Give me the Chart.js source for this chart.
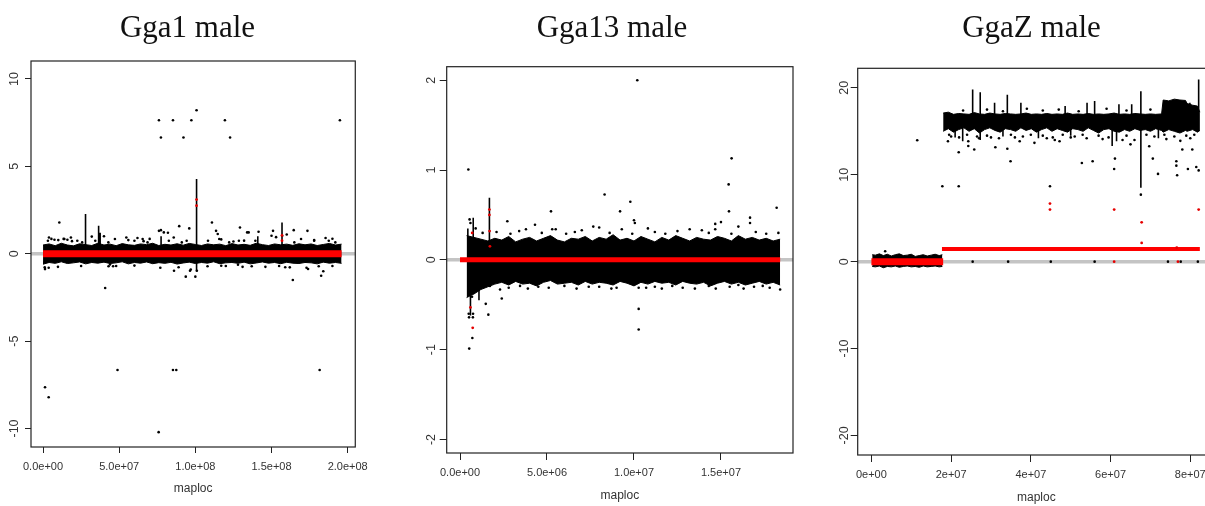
<!DOCTYPE html>
<html><head><meta charset="utf-8">
<script src="https://cdn.jsdelivr.net/npm/chart.js@4.4.1/dist/chart.umd.min.js"></script>
<style>
html,body{margin:0;padding:0;background:#fff;overflow:hidden;width:1205px;height:506px;position:relative}
.pn{position:absolute;top:0}
</style></head><body>
<div class="pn" style="left:0px"><canvas id="c1" width="375" height="506" style="width:375px;height:506px"></canvas></div>
<div class="pn" style="left:422px"><canvas id="c2" width="380" height="506" style="width:380px;height:506px"></canvas></div>
<div class="pn" style="left:834px"><canvas id="c3" width="395" height="506" style="width:395px;height:506px"></canvas></div>
<script>
// ================= DATA =================
const xAxisTitle = 'maploc';

// ---- Gga1 male ----
const g1Title = 'Gga1 male';
const g1XRange = [-7.9e6, 2.05e8];
const g1YRange = [-11.06, 11.03];
const g1XTicks = [0, 5e7, 1e8, 1.5e8, 2e8];
const g1XTickLabels = ['0.0e+00', '5.0e+07', '1.0e+08', '1.5e+08', '2.0e+08'];
const g1YTicks = [-10, -5, 0, 5, 10];
const g1YTickLabels = ['-10', '-5', '0', '5', '10'];
const g1BandXMb = [0,4,8,12,16,20,24,28,32,36,40,44,48,52,56,60,64,68,72,76,80,84,88,92,96,100,104,108,112,116,120,124,128,132,136,140,144,148,152,156,160,164,168,172,176,180,184,188,192,196];
const g1BandHi = [0.5,0.56,0.46,0.6,0.5,0.45,0.57,0.52,0.47,0.6,0.5,0.55,0.46,0.58,0.51,0.48,0.56,0.52,0.6,0.47,0.54,0.5,0.57,0.49,0.59,0.53,0.47,0.56,0.51,0.55,0.46,0.58,0.5,0.54,0.48,0.6,0.52,0.47,0.56,0.51,0.55,0.48,0.57,0.51,0.56,0.47,0.53,0.59,0.5,0.55];
const g1BandLo = [-0.6,-0.5,-0.55,-0.46,-0.56,-0.52,-0.47,-0.58,-0.5,-0.54,-0.48,-0.56,-0.52,-0.46,-0.58,-0.5,-0.54,-0.47,-0.57,-0.51,-0.55,-0.49,-0.59,-0.53,-0.48,-0.56,-0.5,-0.54,-0.46,-0.57,-0.52,-0.5,-0.55,-0.48,-0.58,-0.53,-0.47,-0.54,-0.5,-0.57,-0.49,-0.54,-0.56,-0.5,-0.52,-0.58,-0.48,-0.54,-0.5,-0.55];
const g1Spikes = [[1.008e8,0.5,4.27],[2.79e7,0.5,2.27],[3.65e7,0.5,1.6],[3.75e7,0.5,1.2],[1.569e8,0.5,1.79],[1.008e8,-1.0,-0.5],[7.75e7,0.5,1.0],[1.41e8,0.5,1.0]];
const g1Points = [[7.61e7,7.64],[7.74e7,6.65],[8.53e7,7.64],[9.22e7,6.65],[9.74e7,7.64],[1.008e8,8.21],[1.194e8,7.64],[1.228e8,6.65],[1.949e8,7.64],
 [1.07e7,1.79],[3.9e6,0.93],[5.5e6,0.85],[1.0e7,0.78],[1.35e7,0.85],[1.6e7,0.8],[1.9e7,0.72],[8.94e7,1.58],[9.6e7,1.45],[7.74e7,1.35],[8.2e7,1.2],
 [1.109e8,1.79],[1.136e8,1.31],[1.293e8,1.5],[1.34e8,1.22],[1.415e8,1.26],[1.51e8,1.31],[1.57e8,1.03],[1.646e8,1.35],[1.736e8,1.31],[1.855e8,0.9],
 [3.2e7,0.98],[4.0e7,1.0],[5.6e7,0.78],[6.2e7,0.9],[7.0e7,0.85],[1.17e8,0.82],[1.32e8,0.75],[1.53e8,0.95],[1.6e8,1.1],[1.78e8,0.78],[1.9e8,0.86],[6.6e7,0.72],[1.25e8,0.7],
 [3.2e6,0.74],[7.5e6,0.8],[1.4e7,0.84],[1.83e7,0.93],[2.25e7,0.74],[2.57e7,0.65],[3.43e7,0.74],[4.29e7,0.65],[4.72e7,0.84],[5.47e7,0.93],[6.0e7,0.74],[6.54e7,0.84],
 [6.86e7,0.65],[7.61e7,1.31],[7.93e7,1.22],[8.26e7,0.74],[8.58e7,0.93],[9.11e7,0.65],[9.43e7,0.74],[1.083e8,0.74],[1.147e8,1.13],[1.157e8,0.84],[1.222e8,0.65],
 [1.286e8,0.74],[1.35e8,1.22],[1.394e8,0.74],[1.5e8,1.03],[1.65e8,0.65],[1.694e8,0.84],[1.78e8,0.74],[1.876e8,0.74],[1.919e8,0.65],
 [4.08e7,-1.96],[4.89e7,-6.65],[8.53e7,-6.65],[8.75e7,-6.65],[1.816e8,-6.65],[1.3e6,-7.64],[3.7e6,-8.21],[7.59e7,-10.21],[1.64e8,-1.5],[1.826e8,-1.26],
 [9.37e7,-1.31],[1.0e8,-1.31],[1.01e8,-0.97],[9.7e7,-0.9],[8.6e7,-0.97],[1.3e6,-0.88],[3.7e6,-0.8],[9.8e6,-0.75],[1.59e8,-0.77],[1.73e8,-0.8],[8.9e7,-0.77],
 [1.31e8,-0.75],[1.37e8,-0.72],[1.46e8,-0.75],[1.55e8,-0.7],[2.5e7,-0.7],[4.3e7,-0.72],[4.6e7,-0.72],[4.8e7,-0.7],[6.0e7,-0.68],[1.08e8,-0.72],[1.2e8,-0.7],[1.81e8,-0.72],[1.9e8,-0.7],
 [1.1e6,-0.78],[4.4e7,-0.62],[7.7e7,-0.8],[9.65e7,-0.97],[1.17e8,-0.69],[1.28e8,-0.63],[1.62e8,-0.78],[1.74e8,-0.87],[1.84e8,-1.0]];
const g1RedPoints = [[1.008e8,3.1],[1.008e8,2.75],[1.569e8,1.05],[1.569e8,0.75]];
const g1Segments = [[0, 1.96e8, 0.0]];

// ---- Gga13 male ----
const g2Title = 'Gga13 male';
const g2XRange = [-0.765e6, 1.914e7];
const g2YRange = [-2.15, 2.15];
const g2XTicks = [0, 5e6, 1e7, 1.5e7];
const g2XTickLabels = ['0.0e+00', '5.0e+06', '1.0e+07', '1.5e+07'];
const g2YTicks = [-2, -1, 0, 1, 2];
const g2YTickLabels = ['-2', '-1', '0', '1', '2'];
const g2BandXMb = [0.38,0.8,1.2,1.6,2.0,2.4,2.8,3.2,3.6,4.0,4.4,4.8,5.2,5.6,6.0,6.4,6.8,7.2,7.6,8.0,8.4,8.8,9.2,9.6,10.0,10.4,10.8,11.2,11.6,12.0,12.4,12.8,13.2,13.6,14.0,14.4,14.8,15.2,15.6,16.0,16.4,16.8,17.2,17.6,18.0,18.4];
const g2BandHi = [0.27,0.25,0.23,0.21,0.24,0.22,0.26,0.2,0.23,0.25,0.21,0.24,0.27,0.22,0.2,0.24,0.23,0.26,0.21,0.25,0.23,0.28,0.22,0.24,0.21,0.26,0.23,0.2,0.25,0.22,0.27,0.24,0.21,0.25,0.23,0.22,0.26,0.24,0.21,0.27,0.23,0.25,0.22,0.24,0.21,0.23];
const g2BandLo = [-0.42,-0.38,-0.33,-0.3,-0.27,-0.25,-0.28,-0.24,-0.27,-0.26,-0.29,-0.25,-0.23,-0.27,-0.26,-0.25,-0.28,-0.24,-0.27,-0.25,-0.26,-0.28,-0.24,-0.26,-0.29,-0.25,-0.27,-0.24,-0.26,-0.25,-0.28,-0.24,-0.26,-0.27,-0.25,-0.29,-0.26,-0.24,-0.27,-0.25,-0.28,-0.26,-0.24,-0.27,-0.25,-0.28];
const g2Spikes = [[0.76e6,0.2,0.47],[1.69e6,0.2,0.69],[1.09e6,-0.45,-0.2],[0.6e6,-0.62,-0.25],[0.45e6,0.2,0.35]];
const g2Points = [[1.019e7,2.0],[0.48e6,1.006],[1.561e7,1.13],[1.544e7,0.84],[1.546e7,0.54],[8.31e6,0.727],[9.79e6,0.646],[9.2e6,0.54],[5.23e6,0.54],[1.82e7,0.58],
 [1.667e7,0.47],[1.667e7,0.41],[1.0e7,0.44],[1.005e7,0.41],[2.72e6,0.43],[4.31e6,0.39],[1.467e7,0.4],[1.467e7,0.34],[1.5e7,0.42],[0.55e6,0.45],[0.6e6,0.41],[0.9e6,0.35],
 [3.79e6,0.34],[5.3e6,0.34],[5.5e6,0.34],[7.66e6,0.37],[8.0e6,0.36],[9.3e6,0.34],[1.08e7,0.35],[1.32e7,0.34],[1.39e7,0.33],[1.6e7,0.37],[1.83e7,0.3],[7.0e6,0.33],[1.25e7,0.32],[3.4e6,0.32],
 [1.3e6,0.3],[2.1e6,0.31],[2.9e6,0.29],[4.7e6,0.3],[6.1e6,0.29],[6.6e6,0.31],[8.6e6,0.3],[9.9e6,0.29],[1.12e7,0.31],[1.18e7,0.29],[1.43e7,0.3],[1.56e7,0.29],[1.7e7,0.31],[1.76e7,0.29],
 [0.53e6,-0.988],[0.71e6,-0.87],[0.5e6,-0.6],[0.75e6,-0.6],[0.52e6,-0.64],[0.74e6,-0.64],[0.69e6,-0.41],[1.48e6,-0.49],[1.63e6,-0.61],[2.4e6,-0.43],[2.3e6,-0.33],[1.72e6,-0.29],
 [1.027e7,-0.546],[1.027e7,-0.776],[1.027e7,-0.31],[1.35e7,-0.32],[1.84e7,-0.33],[1.55e7,-0.3],[1.22e7,-0.29],[1.6e7,-0.28],[3.45e6,-0.29],[4.5e6,-0.3],[6.0e6,-0.29],[8.0e6,-0.3],[9.0e6,-0.31],[1.12e7,-0.3],[1.43e7,-0.29],[1.78e7,-0.31],[1.69e7,-0.3],
 [2.8e6,-0.31],[3.9e6,-0.32],[5.1e6,-0.31],[6.7e6,-0.32],[7.4e6,-0.3],[8.7e6,-0.32],[1.07e7,-0.31],[1.16e7,-0.32],[1.28e7,-0.31],[1.47e7,-0.32],[1.63e7,-0.32],[1.74e7,-0.29]];
const g2RedPoints = [[1.69e6,0.56],[1.69e6,0.5],[1.7e6,0.32],[0.73e6,-0.757],[0.6e6,-0.53],[0.7e6,0.3],[1.72e6,0.15]];
const g2Segments = [[0, 1.84e7, 0.0]];

// ---- GgaZ male ----
const g3Title = 'GgaZ male';
const g3XRange = [-3.44e6, 8.62e7];
const g3YRange = [-22.25, 22.25];
const g3XTicks = [0, 2e7, 4e7, 6e7, 8e7];
const g3XTickLabels = ['0e+00', '2e+07', '4e+07', '6e+07', '8e+07'];
const g3YTicks = [-20, -10, 0, 10, 20];
const g3YTickLabels = ['-20', '-10', '0', '10', '20'];
const g3LeftBandXMb = [0.2,1,2,3,4,5,6,7,8,9,10,11,12,13,14,15,16,17,17.8];
const g3LeftBandHi = [0.8,0.75,0.9,0.7,0.85,0.65,0.8,0.9,0.7,0.75,0.85,0.6,0.7,0.8,0.65,0.75,0.85,0.7,0.8];
const g3LeftBandLo = [-0.55,-0.6,-0.5,-0.7,-0.55,-0.6,-0.5,-0.65,-0.55,-0.5,-0.6,-0.55,-0.65,-0.5,-0.6,-0.55,-0.5,-0.6,-0.55];
const g3RightBandXMb = [18.0,19.3,20.6,21.9,23.2,24.5,25.8,27.1,28.4,29.7,31.0,32.3,33.6,34.9,36.2,37.5,38.8,40.1,41.4,42.7,44.0,45.3,46.6,47.9,49.2,50.5,51.8,53.1,54.4,55.7,57.0,58.3,59.6,60.9,62.2,63.5,64.8,66.1,67.4,68.7,70.0,71.3,72.8,73.2,74.6,76.0,77.4,78.8,79.2,80.6,81.8,82.4];
const g3RightBandHi = [17.1,17.2,16.95,17.05,17.0,16.95,17.15,17.0,16.95,17.1,17.0,16.95,17.05,17.0,16.95,17.0,17.1,16.95,17.0,16.95,17.05,16.95,17.0,16.95,17.1,16.95,17.0,16.95,17.05,16.95,17.0,16.95,17.0,17.1,16.95,17.0,16.95,17.05,17.0,16.95,17.0,16.95,17.0,18.6,18.5,18.7,18.6,18.55,18.2,18.0,17.9,17.2];
const g3RightBandLo = [15.0,15.3,14.9,15.2,15.4,15.0,15.3,14.8,15.2,15.4,15.1,14.9,15.3,15.2,15.0,15.4,15.1,15.3,14.9,15.2,15.4,15.0,15.3,15.1,14.9,15.3,15.2,15.0,15.4,15.1,14.8,15.2,15.3,15.0,14.9,15.2,15.0,15.3,15.1,15.2,15.0,15.3,15.1,14.9,15.2,15.0,14.8,15.1,15.0,15.2,14.9,15.1];
const g3Spikes = [[2.54e7,16.8,19.8],[2.73e7,14.0,19.5],[3.09e7,16.8,18.3],[3.41e7,16.8,19.2],[3.75e7,16.8,18.3],[4.86e7,16.8,17.9],[5.41e7,16.8,18.3],[5.6e7,16.8,18.5],
 [6.21e7,16.8,18.1],[6.53e7,16.8,18.1],[6.76e7,8.5,19.6],[7.99e7,16.8,18.3],[8.21e7,15.0,20.95],[2.29e7,13.85,15.5],[4.19e7,14.2,15.5],[6.04e7,13.3,15.5],[6.15e7,13.85,15.5],
 [2.1e7,14.3,15.3],[3.3e7,14.4,15.3],[5.0e7,14.5,15.2],[7.2e7,14.2,15.2]];
const g3Points = [[1.149e7,13.97],[1.78e7,8.67],[2.19e7,8.67],[4.48e7,8.67],[2.19e7,12.59],[1.92e7,13.85],[2.43e7,13.85],[2.58e7,12.9],[2.43e7,13.3],[3.11e7,13.16],[3.41e7,13.0],
 [3.49e7,11.55],[3.72e7,13.85],[4.09e7,13.67],[4.72e7,13.85],[5.28e7,11.36],[5.55e7,11.55],[6.11e7,11.86],[6.09e7,10.67],[6.97e7,13.28],[7.06e7,11.86],[7.19e7,10.1],
 [7.65e7,11.55],[7.65e7,11.05],[7.67e7,9.94],[7.8e7,12.9],[8.05e7,12.9],[7.94e7,10.67],[8.15e7,10.9],[8.21e7,10.5],[6.6e7,14.0],[6.5e7,13.5],[2.7e7,14.2],[3.0e7,14.3],
 [4.4e7,14.2],[5.0e7,14.3],[5.8e7,14.1],[6.3e7,14.0],[7.4e7,14.1],[7.75e7,13.9],[2.0e7,14.4],[3.6e7,14.3],[4.6e7,14.0],[5.4e7,14.2],[6.76e7,7.71],[3.45e6,1.19],
 [1.95e7,14.6],[2.2e7,14.3],[2.4e7,14.6],[2.65e7,14.4],[2.9e7,14.5],[3.2e7,14.2],[3.5e7,14.6],[3.8e7,14.4],[4.0e7,14.6],[4.3e7,14.5],[4.55e7,14.3],[4.8e7,14.6],
 [5.1e7,14.4],[5.3e7,14.6],[5.7e7,14.5],[5.95e7,14.3],[6.4e7,14.5],[6.9e7,14.6],[7.1e7,14.4],[7.35e7,14.6],[7.6e7,14.4],[7.9e7,14.5],[8.1e7,14.6],[8.0e7,14.2],
 [2.3e7,17.4],[2.9e7,17.5],[3.3e7,17.3],[3.9e7,17.6],[4.3e7,17.4],[4.7e7,17.5],[5.2e7,17.3],[5.9e7,17.6],[6.4e7,17.4],[7.0e7,17.5],
 [2.54e7,0],[3.43e7,0],[4.5e7,0],[5.6e7,0],[7.44e7,0],[7.76e7,0],[8.19e7,0]];
const g3RedPoints = [[4.48e7,6.68],[4.48e7,5.99],[6.09e7,5.99],[8.21e7,5.99],[6.78e7,4.53],[6.78e7,2.15],[7.66e7,1.6],[6.09e7,0],[7.69e7,0]];
const g3Segments = [[0, 1.8e7, 0.0], [1.77e7, 8.24e7, 1.46]];

// ================= STYLE / LAYOUT =================
const MB = 1e6;
const X_TICK_FONT = {family: "'Liberation Sans',Arial,sans-serif", size: 11};
const Y_TICK_FONT = {family: "'Liberation Sans',Arial,sans-serif", size: 12.5};
const AXIS_TITLE_FONT = {family: "'Liberation Sans',Arial,sans-serif", size: 12};
const TITLE_FONT = {family: "'Liberation Serif','Times New Roman',serif", size: 31, weight: 'normal'};
const INK = '#222', LABEL = '#333';

const framePlugin = {
  id: 'frame',
  afterDatasetsDraw(chart) {
    const {ctx, chartArea: a} = chart;
    ctx.save();
    ctx.strokeStyle = INK; ctx.lineWidth = 1.2;
    ctx.strokeRect(a.left, a.top, a.right - a.left, a.bottom - a.top);
    ctx.restore();
  }
};

function bandSets(xsMb, hi, lo) {
  const up = xsMb.map((x, i) => ({x: x * MB, y: hi[i]}));
  const dn = xsMb.map((x, i) => ({x: x * MB, y: lo[i]}));
  return [
    {type: 'line', data: up, borderColor: '#000', backgroundColor: '#000', borderWidth: 1, pointRadius: 0, fill: '+1', order: 8},
    {type: 'line', data: dn, borderColor: '#000', backgroundColor: '#000', borderWidth: 1, pointRadius: 0, fill: false, order: 8}
  ];
}
function spikeSet(list) {
  const d = [];
  list.forEach(([x, lo, hi]) => { d.push({x, y: lo}, {x, y: hi}, {x, y: null}); });
  return {type: 'line', data: d, borderColor: '#000', borderWidth: 1.6, pointRadius: 0, spanGaps: false, order: 6};
}
function pointSet(list, color, r, order) {
  return {type: 'scatter', data: list.map(([x, y]) => ({x, y})), backgroundColor: color, borderWidth: 0, pointRadius: r, order};
}
function segSets(list, widths) {
  return list.map(([x0, x1, m], i) => ({type: 'line', data: [{x: x0, y: m}, {x: x1, y: m}], borderColor: '#ff0000', borderWidth: widths[i], pointRadius: 0, order: 2}));
}
function zeroLine(xr) {
  return {type: 'line', data: [{x: xr[0], y: 0}, {x: xr[1], y: 0}], borderColor: '#c4c4c4', borderWidth: 3.5, pointRadius: 0, order: 10};
}

function makePanel(id, P, L) {
  new Chart(document.getElementById(id), {
    type: 'scatter',
    data: {datasets: P.datasets},
    options: {
      responsive: false, animation: false, devicePixelRatio: 1,
      layout: {padding: 0},
      plugins: {
        legend: {display: false}, tooltip: {enabled: false},
        title: {display: true, text: P.title, font: TITLE_FONT, color: '#111', padding: {top: L.titleTop, bottom: L.titleBottom}}
      },
      scales: {
        x: {
          type: 'linear', position: 'bottom', min: P.xr[0], max: P.xr[1], offset: false,
          afterBuildTicks: s => { s.ticks = P.xt.map(v => ({value: v})); },
          afterFit: s => { s.height = L.xH; },
          grid: {display: true, drawOnChartArea: false, drawTicks: true, tickLength: L.tl, color: INK, lineWidth: 1},
          border: {display: false},
          ticks: {autoSkip: false, maxRotation: 0, minRotation: 0, padding: L.xPad, color: LABEL, font: X_TICK_FONT, callback: (v, i) => P.xl[i]},
          title: {display: true, text: xAxisTitle, color: LABEL, font: AXIS_TITLE_FONT, padding: {top: 0, bottom: L.titlePad}}
        },
        y: {
          type: 'linear', position: 'left', min: P.yr[0], max: P.yr[1],
          afterBuildTicks: s => { s.ticks = P.yt.map(v => ({value: v})); },
          afterFit: s => { s.width = L.yW; },
          grid: {display: true, drawOnChartArea: false, drawTicks: true, tickLength: L.tl, color: INK, lineWidth: 1},
          border: {display: false},
          ticks: {autoSkip: false, minRotation: 90, maxRotation: 90, crossAlign: 'center', padding: L.yPad, color: LABEL, font: Y_TICK_FONT, callback: (v, i) => P.yl[i]}
        },
        y2: {
          type: 'linear', position: 'right', display: true,
          afterFit: s => { s.width = L.rW; },
          grid: {display: false}, border: {display: false}, ticks: {display: false}
        }
      }
    },
    plugins: [framePlugin]
  });
}

makePanel('c1', {
  title: g1Title, xr: g1XRange, yr: g1YRange, xt: g1XTicks, xl: g1XTickLabels, yt: g1YTicks, yl: g1YTickLabels,
  datasets: [zeroLine(g1XRange), ...bandSets(g1BandXMb, g1BandHi, g1BandLo), spikeSet(g1Spikes),
    pointSet(g1Points, '#000', 1.3, 4), ...segSets(g1Segments, [7]), pointSet(g1RedPoints, '#e60000', 1.4, 1)]
}, {titleTop: 10.2, titleBottom: 13.6, xH: 59, yW: 31, rW: 13, tl: 6, xPad: 7, yPad: 1, titlePad: 10.2});

makePanel('c2', {
  title: g2Title, xr: g2XRange, yr: g2YRange, xt: g2XTicks, xl: g2XTickLabels, yt: g2YTicks, yl: g2YTickLabels,
  datasets: [zeroLine(g2XRange), ...bandSets(g2BandXMb, g2BandHi, g2BandLo), spikeSet(g2Spikes),
    pointSet(g2Points, '#000', 1.3, 4), ...segSets(g2Segments, [5]), pointSet(g2RedPoints, '#e60000', 1.4, 1)]
}, {titleTop: 10.2, titleBottom: 19.3, xH: 53, yW: 24.7, rW: 9, tl: 7, xPad: 6.6, yPad: 2.4, titlePad: 3.6});

makePanel('c3', {
  title: g3Title, xr: g3XRange, yr: g3YRange, xt: g3XTicks, xl: g3XTickLabels, yt: g3YTicks, yl: g3YTickLabels,
  datasets: [zeroLine(g3XRange), ...bandSets(g3LeftBandXMb, g3LeftBandHi, g3LeftBandLo), ...bandSets(g3RightBandXMb, g3RightBandHi, g3RightBandLo), spikeSet(g3Spikes),
    pointSet(g3Points, '#000', 1.3, 4), ...segSets(g3Segments, [7, 4]), pointSet(g3RedPoints, '#e60000', 1.4, 1)]
}, {titleTop: 10.2, titleBottom: 20.9, xH: 51, yW: 23.7, rW: 14, tl: 7, xPad: 6.3, yPad: -2.6, titlePad: 1.2});
</script>
</body></html>
